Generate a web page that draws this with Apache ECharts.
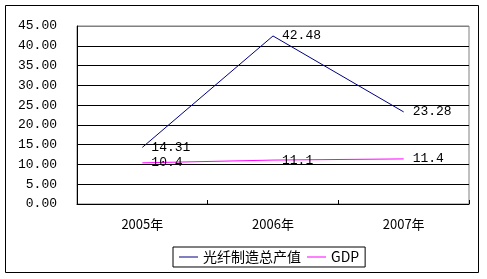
<!DOCTYPE html>
<html><head><meta charset="utf-8">
<script src="https://cdn.jsdelivr.net/npm/echarts@6/dist/echarts.min.js"></script>
<style>html,body{margin:0;padding:0;background:#fff}#c{width:487px;height:279px}</style>
</head><body><div id="c"></div>
<script>
const categories = ['2005年', '2006年', '2007年'];
const fiberOutput = [14.31, 42.48, 23.28];
const gdp = [10.4, 11.1, 11.4];
const seriesNames = ['光纤制造总产值', 'GDP'];
const seriesColors = ['#000080', '#ff00ff'];

const chart = echarts.init(document.getElementById('c'));
const monoFont = '"Liberation Mono", "DejaVu Sans Mono", monospace';
const lbl = {show: true, position: 'right', distance: 8, fontFamily: monoFont, fontSize: 13, color: '#000'};
chart.setOption({
  animation: false,
  backgroundColor: '#fff',
  graphic: [{type: 'rect', shape: {x: 5.5, y: 5.5, width: 473, height: 267}, style: {fill: 'none', stroke: '#000', lineWidth: 1}, z: -1}],
  grid: {left: 77, top: 26, right: 18, bottom: 75, show: true, borderColor: '#808080', borderWidth: 1, containLabel: false},
  legend: {
    left: 173, top: 247, padding: [3, 6, 3, 6], itemGap: 6, itemWidth: 19, itemHeight: 1,
    borderColor: '#000', borderWidth: 1,
    textStyle: {fontSize: 14, color: '#000', fontFamily: '"Noto Sans CJK SC", sans-serif'},
    data: seriesNames.map((n, i) => ({name: n, icon: 'rect', itemStyle: {color: seriesColors[i], opacity: 1}}))
  },
  xAxis: {
    type: 'category', data: categories, boundaryGap: true,
    axisLine: {lineStyle: {color: '#000', width: 1}},
    axisTick: {show: true, inside: true, length: 4, lineStyle: {color: '#000'}},
    axisLabel: {margin: 14, fontSize: 13, color: '#000', fontFamily: '"Noto Sans CJK SC", sans-serif'}
  },
  yAxis: {
    type: 'value', min: 0, max: 45, interval: 5,
    axisLine: {show: true, lineStyle: {color: '#000'}},
    axisTick: {show: false},
    axisLabel: {margin: 20, fontSize: 13, color: '#000', fontFamily: monoFont, formatter: v => v.toFixed(2)},
    splitLine: {show: true, lineStyle: {color: ['#000','#000','#000','#000','#000','#000','#000','#000','#000','#808080'], width: 1}}
  },
  series: [0, 1].map(i => ({
    name: seriesNames[i], type: 'line', data: i === 0 ? fiberOutput : gdp,
    symbol: 'circle', symbolSize: 2, showSymbol: true,
    lineStyle: {color: seriesColors[i], width: 1},
    itemStyle: {color: 'rgba(0,0,0,0)', borderWidth: 0},
    label: lbl
  }))
});
</script></body></html>
